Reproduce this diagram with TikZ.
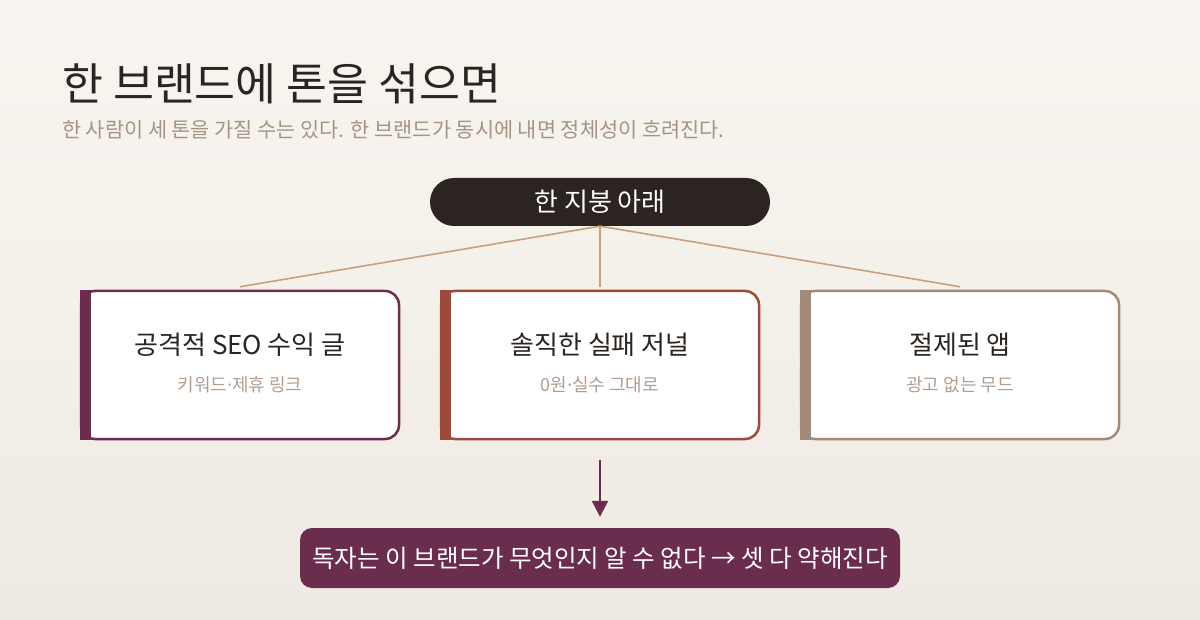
\documentclass[tikz,border=0pt]{standalone}
\usepackage{fontspec}
\setmainfont{Noto Sans CJK KR}
\newfontfamily\latin{Noto Sans}
\usetikzlibrary{arrows.meta,positioning}
\definecolor{bgtop}{HTML}{F8F5F0}
\definecolor{bgbot}{HTML}{EFEAE3}
\definecolor{ink}{HTML}{2B2522}
\definecolor{muted}{HTML}{A69384}
\definecolor{soft}{HTML}{B19E91}
\definecolor{roof}{HTML}{2C2420}
\definecolor{tan}{HTML}{C9A07D}
\definecolor{plum}{HTML}{6B2D4E}
\definecolor{rust}{HTML}{9C4A3C}
\definecolor{taupe}{HTML}{A38A78}

\begin{document}
\begin{tikzpicture}[x=1pt,y=-1pt,>={Triangle[length=16pt,width=16pt]},
  card/.style={draw,line width=2.5pt,fill=white,rounded corners=14pt,minimum width=318pt,minimum height=148pt},
  cardtitle/.style={font=\fontsize{26}{30}\selectfont,text=ink},
  cardsub/.style={font=\fontsize{18}{21}\selectfont,text=soft},
  link/.style={draw=tan,line width=1.6pt}]
\useasboundingbox (0,0) rectangle (1200,620);
\shade[top color=bgtop,bottom color=bgbot] (0,0) rectangle (1200,620);
\node[anchor=base west,inner sep=0pt,text=ink,font=\fontsize{44.5}{52}\selectfont] (title) at (62,101) {한 브랜드에 톤을 섞으면};
\node[anchor=base west,inner sep=0pt,text=muted,font=\fontsize{20.8}{24}\selectfont] (subtitle) at (62,138) {한 사람이 세 톤을 가질 수는 있다. 한 브랜드가 동시에 내면 정체성이 흐려진다.};
\node[fill=roof,text=white,rounded corners=24pt,minimum width=340pt,minimum height=48pt,font=\fontsize{26}{30}\selectfont] (roof) at (600,202) {한 지붕 아래};
\foreach \n/\x/\c/\t/\s in {1/240/plum/{공격적 SEO 수익 글}/{키워드{\latin·}제휴 링크},2/600/rust/{솔직한 실패 저널}/{0원{\latin·}실수 그대로},3/960/taupe/{절제된 앱}/{광고 없는 무드}}{
  \node[card,draw=\c] (card\n) at (\x,365) {};
  \fill[\c] (card\n.north west) rectangle ([xshift=11pt]card\n.south west);
  \node[cardtitle] (head\n) at ([yshift=-55pt]card\n.north) {\t};
  \node[cardsub,below=13pt of head\n] (sub\n) {\s};
  \draw[link] (roof.south) -- ([yshift=3pt]card\n.north);
}
\node[fill=plum,text=white,rounded corners=12pt,minimum width=600pt,minimum height=60pt,font=\fontsize{24.5}{28}\selectfont] (verdict) at (600,558) {독자는 이 브랜드가 무엇인지 알 수 없다 → 셋 다 약해진다};
\draw[->,plum,line width=2.5pt,shorten <=20pt,shorten >=11pt] (card2.south) -- (verdict.north);
\end{tikzpicture}
\end{document}
